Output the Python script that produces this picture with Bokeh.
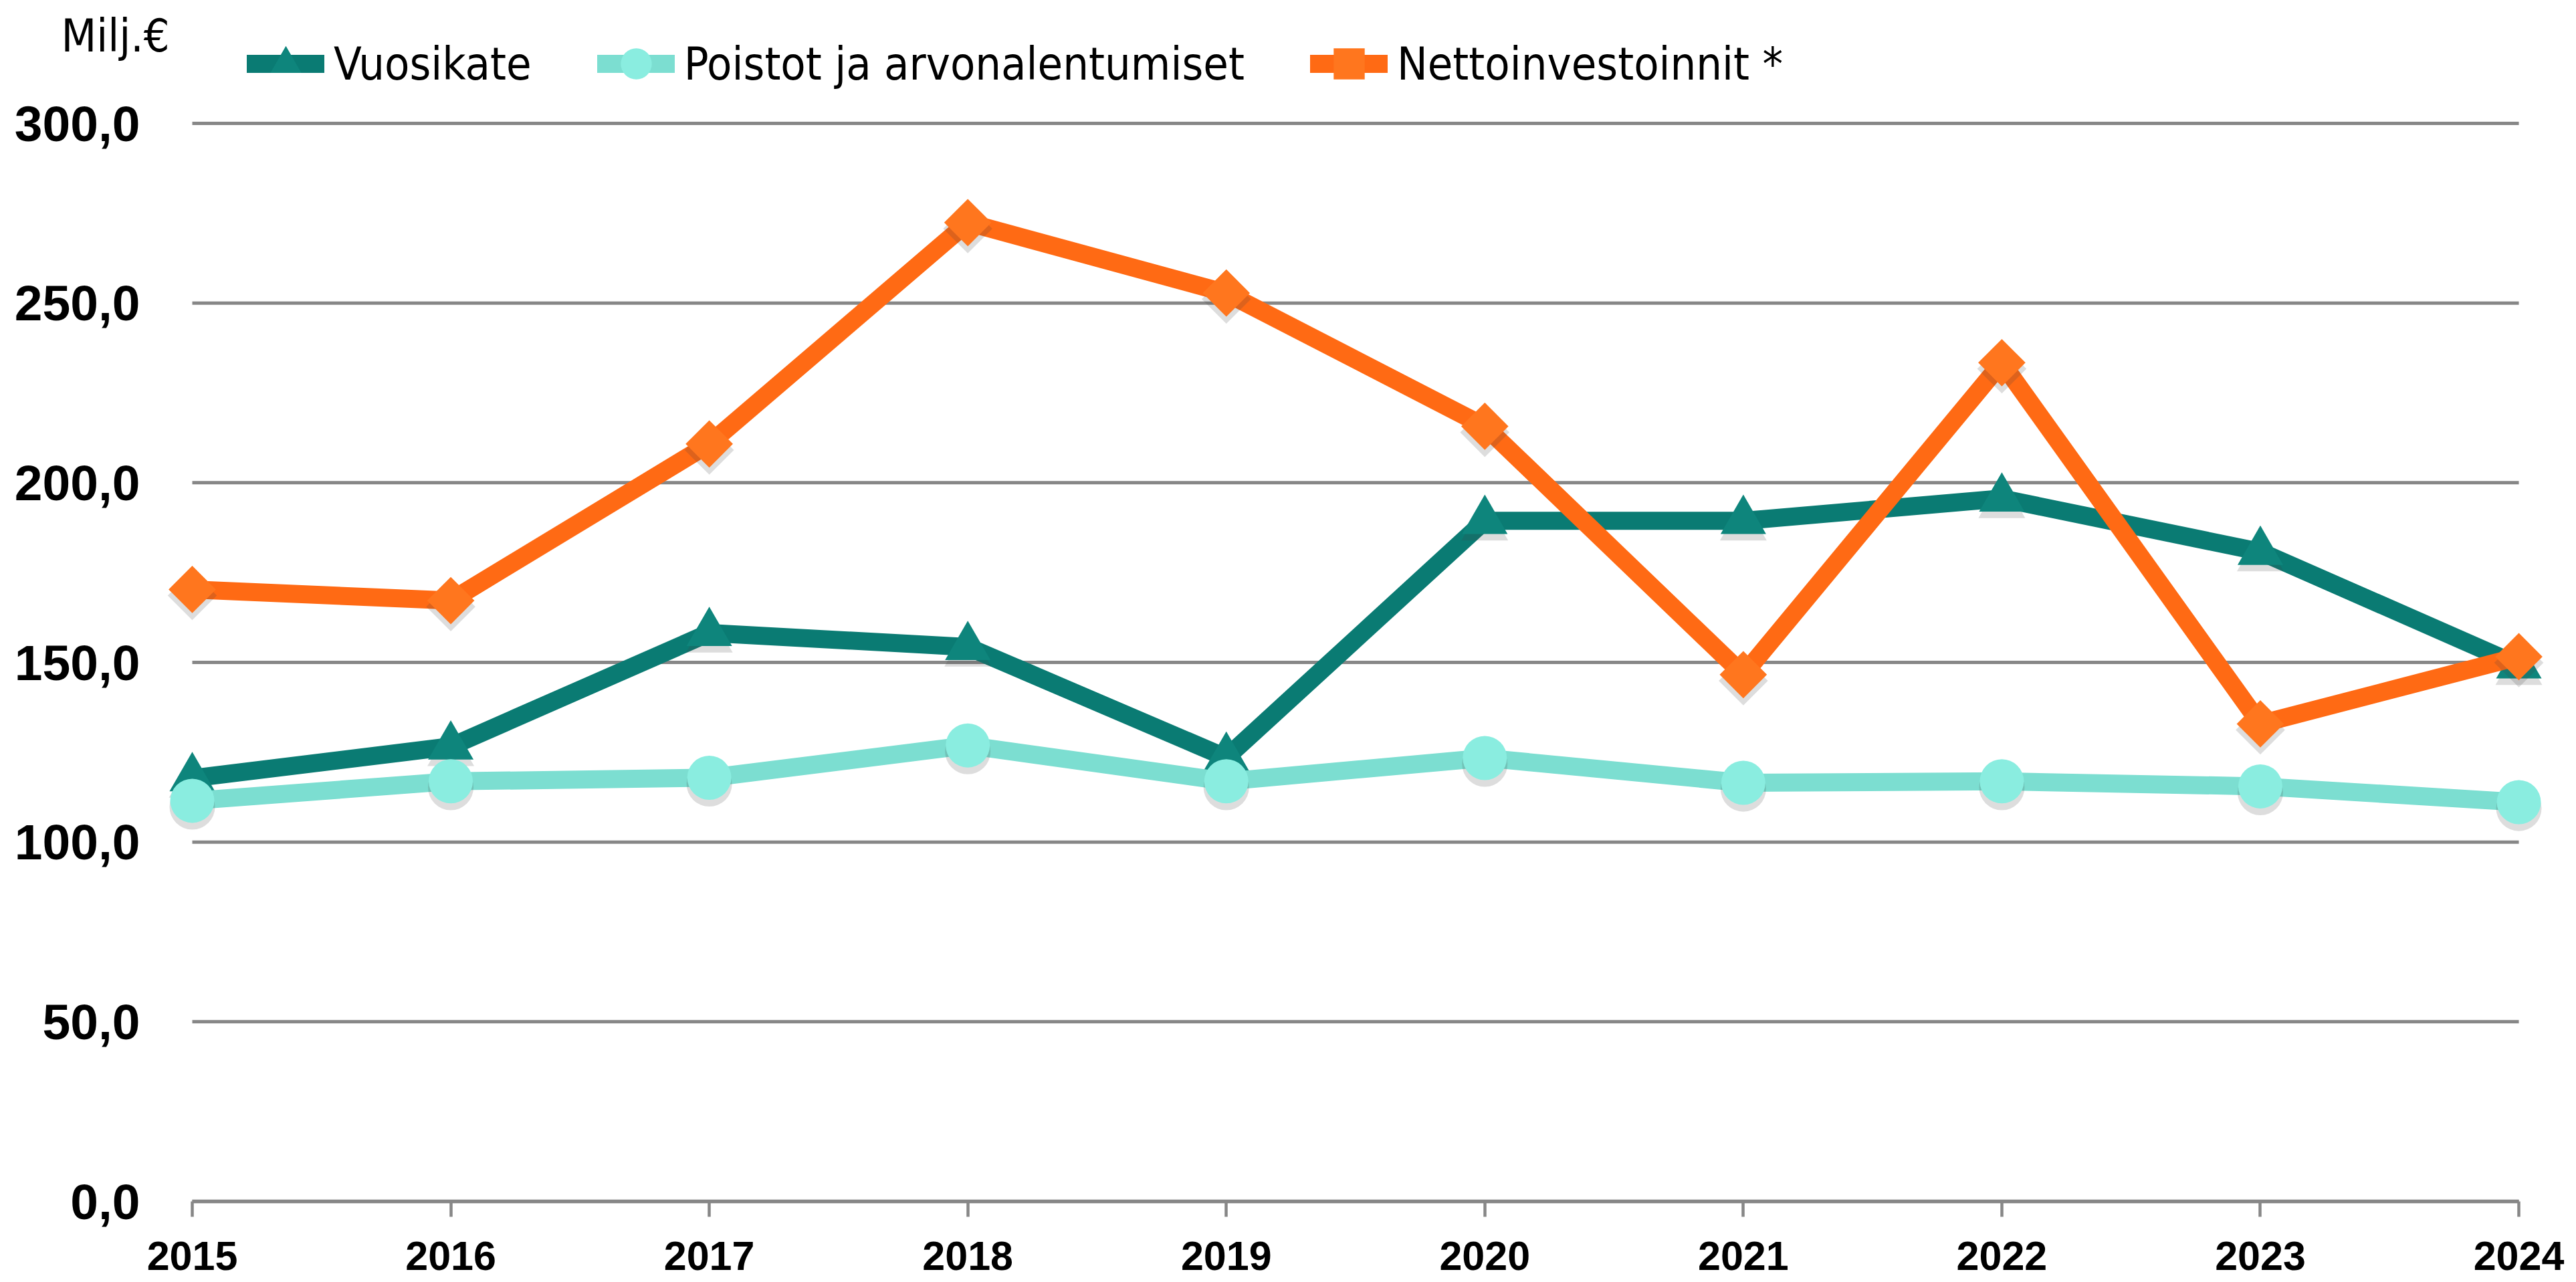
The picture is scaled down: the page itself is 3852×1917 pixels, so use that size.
import math
from bokeh.plotting import figure
from bokeh.models import FixedTicker, Legend, LegendItem, Label, ColumnDataSource, Range1d
from bokeh.transform import dodge
from bokeh.embed import file_html
from bokeh.resources import INLINE

# ---- data ----
years = [2015, 2016, 2017, 2018, 2019, 2020, 2021, 2022, 2023, 2024]
year_labels = [str(y) for y in years]
vuosikate = [117.8, 126.6, 158.2, 154.3, 123.5, 189.4, 189.4, 195.6, 180.8, 149.2]
poistot = [111.5, 116.9, 117.9, 126.9, 116.9, 123.4, 116.5, 116.9, 115.5, 111.1]
netto = [170.3, 167.2, 210.8, 272.4, 252.8, 215.7, 146.6, 233.4, 132.9, 151.6]
y_ticks = [0, 50, 100, 150, 200, 250, 300]
y_tick_labels = ["0,0", "50,0", "100,0", "150,0", "200,0", "250,0", "300,0"]
series_names = ["Vuosikate", "Poistot ja arvonalentumiset", "Nettoinvestoinnit *"]
unit_label = "Milj.€"

# ---- layout constants (pixels) ----
W, H = 3850, 1914
X0_PX, PX_PER_YEAR = 287.0, 386.56      # pixel of first year, px per year
Y0_PX, PX_PER_UNIT = 1796.0, 5.3733     # pixel of value 0, px per unit

x_start = years[0] - X0_PX / PX_PER_YEAR
x_end = x_start + W / PX_PER_YEAR
y_start = -(H - Y0_PX) / PX_PER_UNIT
y_end = y_start + H / PX_PER_UNIT

COND = "DejaVu Sans Condensed, Liberation Sans, sans-serif"
REG = "Liberation Sans"
GRID = "#878787"

p = figure(width=W, height=H, output_backend="svg", toolbar_location=None,
           x_range=Range1d(x_start, x_end), y_range=Range1d(y_start, y_end),
           min_border=0)
p.outline_line_color = None
p.background_fill_color = "white"
p.border_fill_color = "white"
p.xgrid.visible = False
p.ygrid.visible = False

# gridlines limited to the year span
p.segment(x0=[years[0]] * len(y_ticks), x1=[years[-1]] * len(y_ticks),
          y0=y_ticks, y1=y_ticks, line_color=GRID, line_width=5)

# x axis drawn at value 0
xa = p.xaxis[0]
xa.fixed_location = 0
xa.ticker = FixedTicker(ticks=years)
xa.major_label_overrides = {y: l for y, l in zip(years, year_labels)}
xa.bounds = (years[0], years[-1])
xa.axis_line_color = GRID
xa.axis_line_width = 5.5
xa.major_tick_line_color = GRID
xa.major_tick_line_width = 4.5
xa.major_tick_out = 23
xa.major_tick_in = 0
xa.minor_tick_line_color = None
xa.major_label_standoff = 37
xa.major_label_text_font = REG
xa.major_label_text_font_style = "bold"
xa.major_label_text_font_size = "61px"
xa.major_label_text_color = "black"

# y axis drawn at the first year (labels only)
ya = p.yaxis[0]
ya.fixed_location = years[0]
ya.ticker = FixedTicker(ticks=y_ticks)
ya.major_label_overrides = {t: l for t, l in zip(y_ticks, y_tick_labels)}
ya.axis_line_color = None
ya.major_tick_line_color = None
ya.minor_tick_line_color = None
ya.major_label_standoff = 72
ya.major_label_text_font = REG
ya.major_label_text_font_style = "bold"
ya.major_label_text_font_size = "75px"
ya.major_label_text_color = "black"

src = ColumnDataSource(dict(x=years, v=vuosikate, p=poistot, n=netto))

specs = [
    ("v", "#0a7b73", "#0e857c", "triangle", 68, 0.0),
    ("p", "#7cded1", "#8aede0", "circle", 66, 0.0),
    ("n", "#ff6a14", "#ff761e", "square", 50, math.pi / 4),
]
items = []
for (col, lc, mc, mk, sz, ang), name in zip(specs, series_names):
    lr = p.line("x", col, source=src, line_color=lc, line_width=27,
                line_join="round", line_cap="round")
    p.scatter("x", dodge(col, -1.7, range=p.y_range), source=src, marker=mk,
              size=sz + 2, angle=ang, fill_color="#444444", fill_alpha=0.18,
              line_color=None)
    mr = p.scatter("x", col, source=src, marker=mk, size=sz, angle=ang,
                   fill_color=mc, line_color=None)
    items.append(LegendItem(label=name, renderers=[lr, mr]))

legend = Legend(items=items, orientation="horizontal", location=(369, H - 160),
                glyph_width=116, glyph_height=130, label_standoff=14,
                spacing=98, padding=0, margin=0, border_line_color=None,
                background_fill_alpha=0, label_text_font=COND,
                label_text_font_size="68px", label_text_color="black")
p.add_layout(legend)

# unit label
p.add_layout(Label(x=years[0], y=y_ticks[-1], x_offset=-196, y_offset=131,
                   text=unit_label, text_font=COND, text_font_size="68px",
                   text_color="black", text_baseline="alphabetic"))

open("out.html", "w").write(file_html(p, INLINE))
